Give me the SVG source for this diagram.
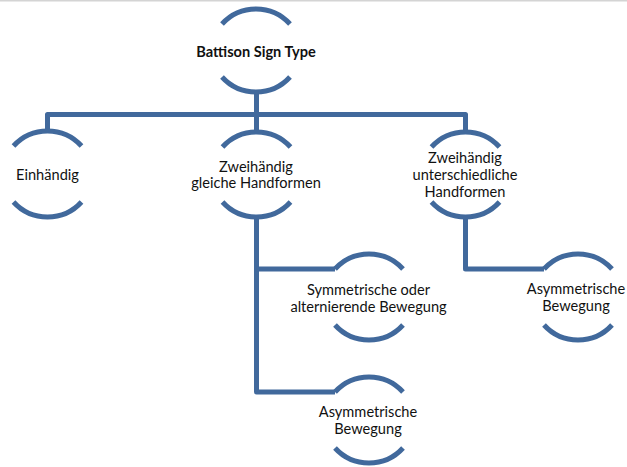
<svg xmlns="http://www.w3.org/2000/svg" width="627" height="467" viewBox="0 0 627 467">
<style>
.arc{fill:none;stroke:#41699C;stroke-width:5}
.con{fill:none;stroke:#41699C;stroke-width:5;stroke-linejoin:round}
text{font-family:Lato,"Liberation Sans",sans-serif;font-size:14.6px;fill:#111;text-anchor:middle}
.b{font-weight:bold}
</style>
<rect x="0" y="0" width="627" height="467" fill="#fff"/>
<rect x="0" y="0" width="627" height="1.5" fill="#d4d4d4"/>
<g id="connectors">
<path class="con" d="M256.5 90 V133"/>
<path class="con" d="M47.5 131 V114.5 H465.5 V134"/>
<path class="con" d="M256.5 216 V392 H335"/>
<path class="con" d="M256.5 269 H335"/>
<path class="con" d="M465.5 216 V269 H544"/>
</g>
<g id="root">
<path class="arc" d="M222 24 A46 46 0 0 1 290 24"/>
<path class="arc" d="M222 77 A46 46 0 0 0 290 77"/>
<text class="b" x="256" y="57">Battison Sign Type</text>
</g>
<g id="einhaendig">
<path class="arc" d="M13.5 146 A46 46 0 0 1 81.5 146"/>
<path class="arc" d="M13.5 202 A46 46 0 0 0 81.5 202"/>
<text x="47.5" y="180">Einhändig</text>
</g>
<g id="zweihaendig-gleich">
<path class="arc" d="M222.5 147 A46 46 0 0 1 290.5 147"/>
<path class="arc" d="M222.5 202 A46 46 0 0 0 290.5 202"/>
<text x="256" y="172">Zweihändig</text>
<text x="256" y="188">gleiche Handformen</text>
</g>
<g id="zweihaendig-unterschiedlich">
<path class="arc" d="M431.5 147 A46 46 0 0 1 499.5 147"/>
<path class="arc" d="M431.5 202 A46 46 0 0 0 499.5 202"/>
<text x="465" y="163">Zweihändig</text>
<text x="465" y="180">unterschiedliche</text>
<text x="465" y="197">Handformen</text>
</g>
<g id="symmetrisch">
<path class="arc" d="M335 269 A46 46 0 0 1 403 269"/>
<path class="arc" d="M335 325 A46 46 0 0 0 403 325"/>
<text x="368.5" y="295">Symmetrische oder</text>
<text x="368.5" y="312">alternierende Bewegung</text>
</g>
<g id="asymmetrisch-rechts">
<path class="arc" d="M544 269 A46 46 0 0 1 612 269"/>
<path class="arc" d="M544 325 A46 46 0 0 0 612 325"/>
<text x="576" y="294">Asymmetrische</text>
<text x="576" y="311">Bewegung</text>
</g>
<g id="asymmetrisch-unten">
<path class="arc" d="M335 392 A46 46 0 0 1 403 392"/>
<path class="arc" d="M335 448 A46 46 0 0 0 403 448"/>
<text x="368" y="417">Asymmetrische</text>
<text x="368" y="434">Bewegung</text>
</g>
</svg>
